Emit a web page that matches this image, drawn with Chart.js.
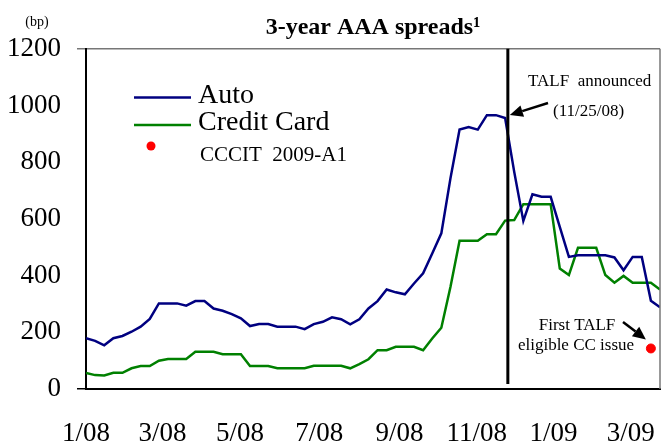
<!DOCTYPE html>
<html>
<head>
<meta charset="utf-8">
<script src="https://cdn.jsdelivr.net/npm/chart.js@4"></script>
<style>
  html, body { margin: 0; padding: 0; background: #fff; }
</style>
</head>
<body>
<canvas id="spreadChart" width="661" height="444"></canvas>
<script>
// #############################################################################
// Data (weekly observations, bp)

const autoSpread = [179, 170, 154, 179, 187, 202, 220, 247, 302, 302,
    302, 294, 310, 310, 284, 276, 264, 249, 222, 229,
    229, 220, 220, 220, 211, 229, 237, 253, 246, 228,
    246, 284, 310, 351, 341, 334, 372, 408, 478, 549,
    743, 915, 924, 915, 966, 966, 956, 766, 593, 687,
    678, 678, 572, 466, 472, 472, 472, 472, 464, 419,
    466, 466, 311, 288];

const creditCardSpread = [57, 49, 48, 57, 57, 73, 81, 81, 100, 106,
    106, 106, 131, 131, 131, 123, 123, 123, 81, 81,
    81, 73, 73, 73, 73, 82, 82, 82, 82, 73,
    88, 105, 137, 137, 149, 149, 149, 137, 178, 216,
    360, 523, 523, 523, 546, 546, 594, 596, 652, 652,
    652, 652, 425, 402, 498, 498, 498, 402, 375, 399,
    375, 375, 375, 351];

// CCCIT 2009-A1 single observation
const ccFirstWeek = 62;
const ccFirstSpread = 143;

// x-axis labels and their position (in weeks from the first observation)
const tickLabels = ["1/08", "3/08", "5/08", "7/08", "9/08", "11/08", "1/09", "3/09"];
const tickWeeks = [0, 8.4, 16.9, 25.6, 34.4, 42.9, 51.3, 59.8];

// TALF announcement (11/25/08) in weeks
const talfWeek = 46.3;

const blue = "#000080";
const green = "#008000";
const serif = "'Liberation Serif', 'Times New Roman', serif";

const toPoints = (values) => values.map((v, i) => ({ x: i, y: v }));

// #############################################################################
// Annotations plugin

const drawArrow = function (ctx, x1, y1, x2, y2) {
    const angle = Math.atan2(y2 - y1, x2 - x1);
    const headLen = 13;
    const headHalf = 6;
    const bx = x2 - headLen * Math.cos(angle);
    const by = y2 - headLen * Math.sin(angle);
    ctx.save();
    ctx.strokeStyle = "#000";
    ctx.fillStyle = "#000";
    ctx.lineWidth = 2.5;
    ctx.beginPath();
    ctx.moveTo(x1, y1);
    ctx.lineTo(bx, by);
    ctx.stroke();
    ctx.beginPath();
    ctx.moveTo(x2, y2);
    ctx.lineTo(bx + headHalf * Math.sin(angle), by - headHalf * Math.cos(angle));
    ctx.lineTo(bx - headHalf * Math.sin(angle), by + headHalf * Math.cos(angle));
    ctx.closePath();
    ctx.fill();
    ctx.restore();
};

const annotations = {
    id: "annotations",
    afterDraw(chart) {
        const { ctx, chartArea } = chart;
        const x = chart.scales.x;
        const y = chart.scales.y;

        ctx.save();

        // right frame line
        ctx.strokeStyle = "#777";
        ctx.lineWidth = 1.5;
        ctx.beginPath();
        ctx.moveTo(chartArea.right, chartArea.top);
        ctx.lineTo(chartArea.right, chartArea.bottom);
        ctx.stroke();

        // TALF vertical line
        const talfX = x.getPixelForValue(talfWeek);
        ctx.strokeStyle = "#000";
        ctx.lineWidth = 3;
        ctx.beginPath();
        ctx.moveTo(talfX, chartArea.top);
        ctx.lineTo(talfX, chartArea.bottom - 5);
        ctx.stroke();

        // unit label
        ctx.fillStyle = "#000";
        ctx.textBaseline = "middle";
        ctx.textAlign = "center";
        ctx.font = "14px " + serif;
        ctx.fillText("(bp)", 37, 22);

        // legend
        ctx.lineWidth = 2.5;
        ctx.strokeStyle = blue;
        ctx.beginPath();
        ctx.moveTo(134, 97.5);
        ctx.lineTo(191, 97.5);
        ctx.stroke();
        ctx.strokeStyle = green;
        ctx.beginPath();
        ctx.moveTo(134, 125);
        ctx.lineTo(191, 125);
        ctx.stroke();
        ctx.fillStyle = "#ff0000";
        ctx.beginPath();
        ctx.arc(151, 146, 4.5, 0, Math.PI * 2);
        ctx.fill();

        ctx.fillStyle = "#000";
        ctx.textAlign = "left";
        ctx.font = "28px " + serif;
        ctx.fillText("Auto", 198, 96);
        ctx.fillText("Credit Card", 198, 123);
        ctx.font = "21px " + serif;
        ctx.fillText("CCCIT  2009-A1", 200, 155);

        // TALF annotation
        ctx.font = "17px " + serif;
        ctx.fillText("TALF  announced", 528, 82);
        ctx.fillText("(11/25/08)", 553, 112);
        drawArrow(ctx, 548, 103, talfX + 2, 115);

        // first eligible issue annotation
        ctx.textAlign = "center";
        ctx.fillText("First TALF", 577, 326);
        ctx.fillText("eligible CC issue", 576, 346);
        const dotX = x.getPixelForValue(ccFirstWeek);
        const dotY = y.getPixelForValue(ccFirstSpread);
        drawArrow(ctx, 623, 322, dotX - 5, dotY - 9);

        ctx.restore();
    },
};

// #############################################################################
// Chart

const ctx = document.getElementById("spreadChart").getContext("2d");
const chart = new Chart(ctx, {
    type: "line",
    data: {
        datasets: [
            {
                label: "Auto",
                data: toPoints(autoSpread),
                borderColor: blue,
                borderWidth: 2.5,
                pointRadius: 0,
                fill: false,
            },
            {
                label: "Credit Card",
                data: toPoints(creditCardSpread),
                borderColor: green,
                borderWidth: 2.5,
                pointRadius: 0,
                fill: false,
            },
            {
                type: "scatter",
                label: "CCCIT 2009-A1",
                data: [{ x: ccFirstWeek, y: ccFirstSpread }],
                backgroundColor: "#ff0000",
                borderColor: "#ff0000",
                pointRadius: 4.5,
            },
        ],
    },
    plugins: [annotations],
    options: {
        responsive: false,
        animation: false,
        devicePixelRatio: 1,
        layout: { autoPadding: false, padding: { left: 0, right: 1, top: 0, bottom: 0 } },
        plugins: {
            legend: { display: false },
            tooltip: { enabled: false },
            title: {
                display: true,
                text: "3-year AAA spreads\u00B9",
                color: "#000",
                fullSize: false,
                font: { family: serif, size: 24, weight: "bold" },
                padding: { top: 13, bottom: 7 },
            },
        },
        scales: {
            x: {
                type: "linear",
                min: 0,
                max: autoSpread.length - 1,
                afterBuildTicks: (scale) => {
                    scale.ticks = tickWeeks.map((v) => ({ value: v }));
                },
                afterFit: (scale) => {
                    scale.height = 55;
                    scale.paddingLeft = 0;
                    scale.paddingRight = 0;
                },
                grid: { display: false },
                border: { display: true, color: "#000", width: 2 },
                ticks: {
                    autoSkip: false,
                    maxRotation: 0,
                    padding: 21,
                    color: "#000",
                    font: { family: serif, size: 27 },
                    callback: (value, index) => tickLabels[index],
                },
            },
            y: {
                min: 0,
                max: 1200,
                afterFit: (scale) => {
                    scale.width = 86;
                    scale.paddingTop = 0;
                    scale.paddingBottom = 0;
                },
                border: { display: true, color: "#000", width: 2 },
                grid: {
                    drawOnChartArea: true,
                    tickLength: 9,
                    lineWidth: 1.5,
                    color: (c) => {
                        if (c.tick.value === 0) return "#000";
                        if (c.tick.value === 1200) return "#777";
                        return "rgba(0,0,0,0)";
                    },
                },
                ticks: {
                    stepSize: 200,
                    padding: 16,
                    color: "#000",
                    font: { family: serif, size: 27 },
                    callback: (value) => String(value),
                },
            },
        },
    },
});
</script>
</body>
</html>
